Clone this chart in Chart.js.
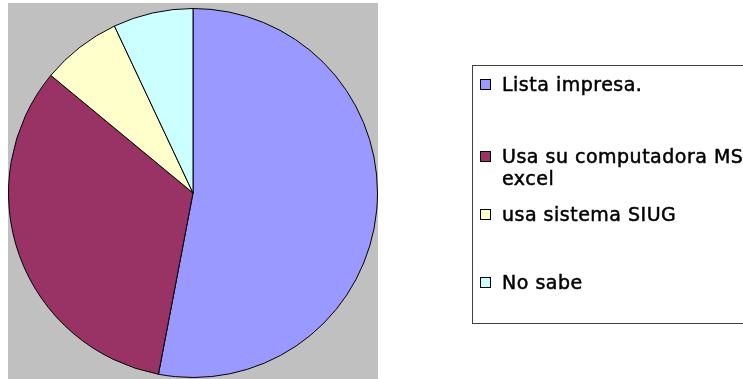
<!DOCTYPE html>
<html>
<head>
<meta charset="utf-8">
<script src="https://cdn.jsdelivr.net/npm/chart.js@4/dist/chart.umd.min.js"></script>
<style>
  body { margin: 0; background: #fff; }
  canvas { display: block; }
</style>
</head>
<body>
<canvas id="pieChart" width="743" height="379"></canvas>
<script>
// categories (multi-line entries wrap in the legend)
const labels = [
  'Lista impresa.',
  ['Usa su computadora MS', 'excel'],
  'usa sistema SIUG',
  'No sabe'
];
// share of answers, percent
const values = [53, 33, 7, 7];
const sliceColors = ['#9999FF', '#993366', '#FFFFCC', '#CCFFFF'];

// grey plot area behind the pie
const plotBackground = {
  id: 'plotBackground',
  beforeDraw(chart) {
    const ctx = chart.ctx;
    ctx.save();
    ctx.fillStyle = '#C0C0C0';
    ctx.fillRect(8, 3, 370, 376);
    ctx.restore();
  }
};

// boxed legend on the right, drawn from the chart's own labels/colours
const boxLegend = {
  id: 'boxLegend',
  afterDraw(chart) {
    const ctx = chart.ctx;
    const ds = chart.data.datasets[0];
    const baselines = [91, 163, 221, 289];
    const lineGap = 22;
    ctx.save();
    ctx.strokeStyle = '#404040';
    ctx.lineWidth = 1;
    ctx.strokeRect(472.5, 65.5, 300, 258);

    ctx.font = '19px "DejaVu Sans"';
    ctx.letterSpacing = '0.5px';
    ctx.textBaseline = 'alphabetic';
    chart.data.labels.forEach((lab, i) => {
      const y = baselines[i];
      ctx.fillStyle = ds.backgroundColor[i];
      ctx.fillRect(480, y - 12, 11, 11);
      ctx.lineWidth = 1;
      ctx.strokeStyle = '#000';
      ctx.strokeRect(480.5, y - 11.5, 10, 10);
      ctx.fillStyle = '#000';
      ctx.lineWidth = 0.5;
      const lines = Array.isArray(lab) ? lab : [lab];
      lines.forEach((t, j) => {
        ctx.fillText(t, 502, y + j * lineGap);
        ctx.strokeText(t, 502, y + j * lineGap);
      });
    });
    ctx.restore();
  }
};

new Chart('pieChart', {
  type: 'pie',
  data: {
    labels: labels,
    datasets: [{
      data: values,
      backgroundColor: sliceColors,
      borderColor: '#000',
      borderWidth: 1
    }]
  },
  options: {
    responsive: false,
    animation: false,
    layout: { padding: { left: 8, top: 8, right: 365, bottom: 1 } },
    plugins: {
      legend: { display: false },
      tooltip: { enabled: false }
    }
  },
  plugins: [plotBackground, boxLegend]
});
</script>
</body>
</html>
